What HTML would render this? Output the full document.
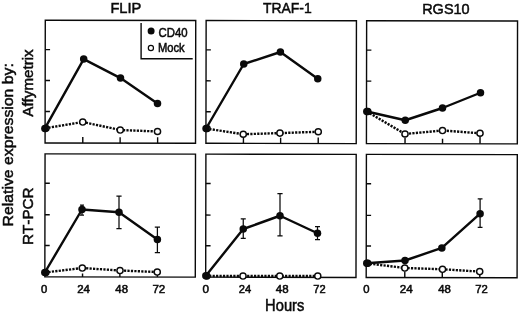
<!DOCTYPE html>
<html><head><meta charset="utf-8"><title>Figure</title>
<style>
html,body{margin:0;padding:0;background:#fff;}
body{width:520px;height:314px;overflow:hidden;position:relative;font-family:"Liberation Sans",sans-serif;}
</style></head><body>
<svg width="520" height="314" viewBox="0 0 520 314" style="position:absolute;left:0;top:0;will-change:transform">
<rect width="520" height="314" fill="#fff"/>
<g fill="none" stroke="#0a0a0a" stroke-width="1.4" stroke-linecap="butt" transform="rotate(0.1 281 157)">
<rect x="45.05" y="20.65" width="150.45" height="122.80"/>
<path d="M45.05 50.0h4.8"/>
<path d="M45.05 80.95h4.8"/>
<path d="M45.05 111.9h4.8"/>
<path d="M82.75 143.45v-6"/>
<path d="M120.1 143.45v-6"/>
<path d="M157.6 143.45v-6"/>
<rect x="205.9" y="20.65" width="150.30" height="122.80"/>
<path d="M205.9 50.0h4.8"/>
<path d="M205.9 80.95h4.8"/>
<path d="M205.9 111.9h4.8"/>
<path d="M243.4 143.45v-6"/>
<path d="M280.6 143.45v-5.8"/>
<path d="M318.2 143.45v-6"/>
<rect x="366.4" y="20.65" width="150.90" height="122.80"/>
<path d="M366.4 50.0h4.8"/>
<path d="M366.4 80.95h4.8"/>
<path d="M366.4 111.9h4.8"/>
<path d="M405.0 143.45v-6"/>
<path d="M442.5 143.45v-4.9"/>
<path d="M480.0 143.45v-6.8"/>
<rect x="45.05" y="154.25" width="150.45" height="123.05"/>
<path d="M45.05 183.6h4.8"/>
<path d="M45.05 215.2h4.8"/>
<path d="M45.05 245.9h4.8"/>
<path d="M82.75 277.3v-3.5"/>
<path d="M120.1 277.3v-3.5"/>
<path d="M157.6 277.3v-3.5"/>
<rect x="205.9" y="154.25" width="150.30" height="123.05"/>
<path d="M205.9 183.6h4.8"/>
<path d="M205.9 215.2h4.8"/>
<path d="M205.9 245.9h4.8"/>
<path d="M243.4 277.3v-3.5"/>
<path d="M280.6 277.3v-3.5"/>
<path d="M318.2 277.3v-3.5"/>
<rect x="366.4" y="154.25" width="150.90" height="123.05"/>
<path d="M366.4 183.6h4.8"/>
<path d="M366.4 215.2h4.8"/>
<path d="M366.4 245.9h4.8"/>
<path d="M405.0 277.3v-6"/>
<path d="M442.5 277.3v-6"/>
<path d="M480.0 277.3v-6"/>
</g>
<path d="M141.1 23V58.8H192.7" fill="none" stroke="#0a0a0a" stroke-width="1.4"/>
<polyline points="45.0,128.3 82.75,122 120.25,130 157.5,131.5" fill="none" stroke="#0a0a0a" stroke-width="2.4" stroke-dasharray="2.2 1.25"/>
<circle cx="45.9" cy="128.3" r="3.1" fill="#fff" stroke="#0a0a0a" stroke-width="1.45"/>
<circle cx="82.75" cy="122" r="3.1" fill="#fff" stroke="#0a0a0a" stroke-width="1.45"/>
<circle cx="120.25" cy="130" r="3.1" fill="#fff" stroke="#0a0a0a" stroke-width="1.45"/>
<circle cx="157.5" cy="131.5" r="3.1" fill="#fff" stroke="#0a0a0a" stroke-width="1.45"/>
<polyline points="44.9,128.4 83.7,59.1 120.5,78.1 157.5,103.4" fill="none" stroke="#0a0a0a" stroke-width="2.4" stroke-linejoin="round"/>
<circle cx="44.9" cy="128.4" r="3.75" fill="#0a0a0a"/>
<circle cx="83.7" cy="59.1" r="3.75" fill="#0a0a0a"/>
<circle cx="120.5" cy="78.1" r="3.75" fill="#0a0a0a"/>
<circle cx="157.5" cy="103.4" r="3.75" fill="#0a0a0a"/>
<polyline points="205.9,128.5 243.25,134.25 279.9,133.1 318.25,131.75" fill="none" stroke="#0a0a0a" stroke-width="2.4" stroke-dasharray="2.2 1.25"/>
<circle cx="207.05" cy="128.5" r="3.1" fill="#fff" stroke="#0a0a0a" stroke-width="1.45"/>
<circle cx="243.25" cy="134.25" r="3.1" fill="#fff" stroke="#0a0a0a" stroke-width="1.45"/>
<circle cx="279.9" cy="133.1" r="3.1" fill="#fff" stroke="#0a0a0a" stroke-width="1.45"/>
<circle cx="318.25" cy="131.75" r="3.1" fill="#fff" stroke="#0a0a0a" stroke-width="1.45"/>
<polyline points="206.05,128.5 243.75,64 280.4,52.0 317.75,78.75" fill="none" stroke="#0a0a0a" stroke-width="2.4" stroke-linejoin="round"/>
<circle cx="206.05" cy="128.5" r="3.75" fill="#0a0a0a"/>
<circle cx="243.75" cy="64" r="3.75" fill="#0a0a0a"/>
<circle cx="280.4" cy="52.0" r="3.75" fill="#0a0a0a"/>
<circle cx="317.75" cy="78.75" r="3.75" fill="#0a0a0a"/>
<polyline points="366.8,111.5 405,134 442.5,130.5 480,133.25" fill="none" stroke="#0a0a0a" stroke-width="2.4" stroke-dasharray="2.2 1.25"/>
<circle cx="367.8" cy="111.5" r="3.1" fill="#fff" stroke="#0a0a0a" stroke-width="1.45"/>
<circle cx="405" cy="134" r="3.1" fill="#fff" stroke="#0a0a0a" stroke-width="1.45"/>
<circle cx="442.5" cy="130.5" r="3.1" fill="#fff" stroke="#0a0a0a" stroke-width="1.45"/>
<circle cx="480" cy="133.25" r="3.1" fill="#fff" stroke="#0a0a0a" stroke-width="1.45"/>
<polyline points="366.8,111.5 405.25,120.25 442.5,108 480.5,92.75" fill="none" stroke="#0a0a0a" stroke-width="2.4" stroke-linejoin="round"/>
<circle cx="366.8" cy="111.5" r="3.75" fill="#0a0a0a"/>
<circle cx="405.25" cy="120.25" r="3.75" fill="#0a0a0a"/>
<circle cx="442.5" cy="108" r="3.75" fill="#0a0a0a"/>
<circle cx="480.5" cy="92.75" r="3.75" fill="#0a0a0a"/>
<polyline points="45,272.5 82.3,268 120,270.5 157.25,272" fill="none" stroke="#0a0a0a" stroke-width="2.4" stroke-dasharray="2.2 1.25"/>
<circle cx="45.8" cy="272.5" r="3.1" fill="#fff" stroke="#0a0a0a" stroke-width="1.45"/>
<circle cx="82.3" cy="268" r="3.1" fill="#fff" stroke="#0a0a0a" stroke-width="1.45"/>
<circle cx="120" cy="270.5" r="3.1" fill="#fff" stroke="#0a0a0a" stroke-width="1.45"/>
<circle cx="157.25" cy="272" r="3.1" fill="#fff" stroke="#0a0a0a" stroke-width="1.45"/>
<path d="M82 205V215M80.0 205h4M80.0 215h4" fill="none" stroke="#0a0a0a" stroke-width="1.25"/>
<path d="M119 196V228.6M116.4 196h5.2M116.4 228.6h5.2" fill="none" stroke="#0a0a0a" stroke-width="1.25"/>
<path d="M157.4 227.2V252.5M154.8 227.2h5.2M154.8 252.5h5.2" fill="none" stroke="#0a0a0a" stroke-width="1.25"/>
<polyline points="44.8,272.5 82,209.5 119,212.25 157.4,239.6" fill="none" stroke="#0a0a0a" stroke-width="2.4" stroke-linejoin="round"/>
<circle cx="44.8" cy="272.5" r="3.75" fill="#0a0a0a"/>
<circle cx="82" cy="209.5" r="3.75" fill="#0a0a0a"/>
<circle cx="119" cy="212.25" r="3.75" fill="#0a0a0a"/>
<circle cx="157.4" cy="239.6" r="3.75" fill="#0a0a0a"/>
<polyline points="205.7,276 243,276 279.75,276 317.75,276" fill="none" stroke="#0a0a0a" stroke-width="2.4" stroke-dasharray="2.2 1.25"/>
<circle cx="206.85" cy="276" r="3.1" fill="#fff" stroke="#0a0a0a" stroke-width="1.45"/>
<circle cx="243" cy="276" r="3.1" fill="#fff" stroke="#0a0a0a" stroke-width="1.45"/>
<circle cx="279.75" cy="276" r="3.1" fill="#fff" stroke="#0a0a0a" stroke-width="1.45"/>
<circle cx="317.75" cy="276" r="3.1" fill="#fff" stroke="#0a0a0a" stroke-width="1.45"/>
<path d="M243.25 218.75V238.25M240.75 218.75h5M240.75 238.25h5" fill="none" stroke="#0a0a0a" stroke-width="1.25"/>
<path d="M280 193.5V235.75M277.4 193.5h5.2M277.4 235.75h5.2" fill="none" stroke="#0a0a0a" stroke-width="1.25"/>
<path d="M317.5 226.5V239.5M315.0 226.5h5M315.0 239.5h5" fill="none" stroke="#0a0a0a" stroke-width="1.25"/>
<polyline points="205.85,275.75 243.25,229 280,215.75 317.5,233.25" fill="none" stroke="#0a0a0a" stroke-width="2.4" stroke-linejoin="round"/>
<circle cx="205.85" cy="275.75" r="3.75" fill="#0a0a0a"/>
<circle cx="243.25" cy="229" r="3.75" fill="#0a0a0a"/>
<circle cx="280" cy="215.75" r="3.75" fill="#0a0a0a"/>
<circle cx="317.5" cy="233.25" r="3.75" fill="#0a0a0a"/>
<polyline points="366.4,263.25 404.8,268 442.5,269.25 479.7,271.6" fill="none" stroke="#0a0a0a" stroke-width="2.4" stroke-dasharray="2.2 1.25"/>
<circle cx="367.75" cy="263.25" r="3.1" fill="#fff" stroke="#0a0a0a" stroke-width="1.45"/>
<circle cx="404.8" cy="268" r="3.1" fill="#fff" stroke="#0a0a0a" stroke-width="1.45"/>
<circle cx="442.5" cy="269.25" r="3.1" fill="#fff" stroke="#0a0a0a" stroke-width="1.45"/>
<circle cx="479.7" cy="271.6" r="3.1" fill="#fff" stroke="#0a0a0a" stroke-width="1.45"/>
<path d="M480.1 198.8V227.4M477.70000000000005 198.8h4.8M477.70000000000005 227.4h4.8" fill="none" stroke="#0a0a0a" stroke-width="1.25"/>
<polyline points="366.75,263.25 405,260.5 441.85,247.9 480.1,213.7" fill="none" stroke="#0a0a0a" stroke-width="2.4" stroke-linejoin="round"/>
<circle cx="366.75" cy="263.25" r="3.75" fill="#0a0a0a"/>
<circle cx="405" cy="260.5" r="3.75" fill="#0a0a0a"/>
<circle cx="441.85" cy="247.9" r="3.75" fill="#0a0a0a"/>
<circle cx="480.1" cy="213.7" r="3.75" fill="#0a0a0a"/>
<circle cx="151.1" cy="31.1" r="3.5" fill="#0a0a0a"/>
<circle cx="150.9" cy="48" r="2.6" fill="#fff" stroke="#0a0a0a" stroke-width="1.2"/>
<g font-family="Liberation Sans, sans-serif" fill="#0a0a0a" stroke="#0a0a0a" stroke-width="0.5" style="font-kerning:none">
<text transform="translate(110.40 13.1) scale(0.9525 1)" font-size="15.4">FLIP</text>
<text transform="translate(262.89 13.4) scale(0.9072 1)" font-size="15.4">TRAF-1</text>
<text transform="translate(422.16 13.6) scale(0.9417 1)" font-size="15.4">RGS10</text>
<text transform="translate(265.09 311.45) scale(0.9310 1)" font-size="15.8">Hours</text>
<text transform="translate(158.62 36.5) scale(0.9476 1)" font-size="12" stroke-width="0.5">CD40</text>
<text transform="translate(157.98 52.4) scale(0.9313 1)" font-size="12" stroke-width="0.5">Mock</text>
<text transform="translate(41.06 292.55) scale(0.9823 1)" font-size="11.5" stroke-width="0.55">0</text>
<text transform="translate(77.13 292.55) scale(0.9936 1)" font-size="11.5" stroke-width="0.55">24</text>
<text transform="translate(115.34 292.55) scale(0.9894 1)" font-size="11.5" stroke-width="0.55">48</text>
<text transform="translate(152.41 292.55) scale(1.0066 1)" font-size="11.5" stroke-width="0.55">72</text>
<text transform="translate(202.54 292.55) scale(1.0187 1)" font-size="11.5" stroke-width="0.55">0</text>
<text transform="translate(238.84 292.55) scale(0.9683 1)" font-size="11.5" stroke-width="0.55">24</text>
<text transform="translate(275.84 292.55) scale(0.9977 1)" font-size="11.5" stroke-width="0.55">48</text>
<text transform="translate(313.23 292.55) scale(0.9636 1)" font-size="11.5" stroke-width="0.55">72</text>
<text transform="translate(363.26 292.55) scale(0.9823 1)" font-size="11.5" stroke-width="0.55">0</text>
<text transform="translate(399.82 292.55) scale(1.0104 1)" font-size="11.5" stroke-width="0.55">24</text>
<text transform="translate(438.14 292.55) scale(0.9894 1)" font-size="11.5" stroke-width="0.55">48</text>
<text transform="translate(475.32 292.55) scale(0.9808 1)" font-size="11.5" stroke-width="0.55">72</text>
<text transform="translate(12.6 226.50) rotate(-90) scale(1.1133 1)" font-size="14.2">Relative expression by:</text>
<text transform="translate(33.0 116.73) rotate(-90) scale(1.0108 1)" font-size="15">Affymetrix</text>
<text transform="translate(33.0 244.95) rotate(-90) scale(1.0158 1)" font-size="15">RT-PCR</text>
</g>
</svg>
</body></html>
